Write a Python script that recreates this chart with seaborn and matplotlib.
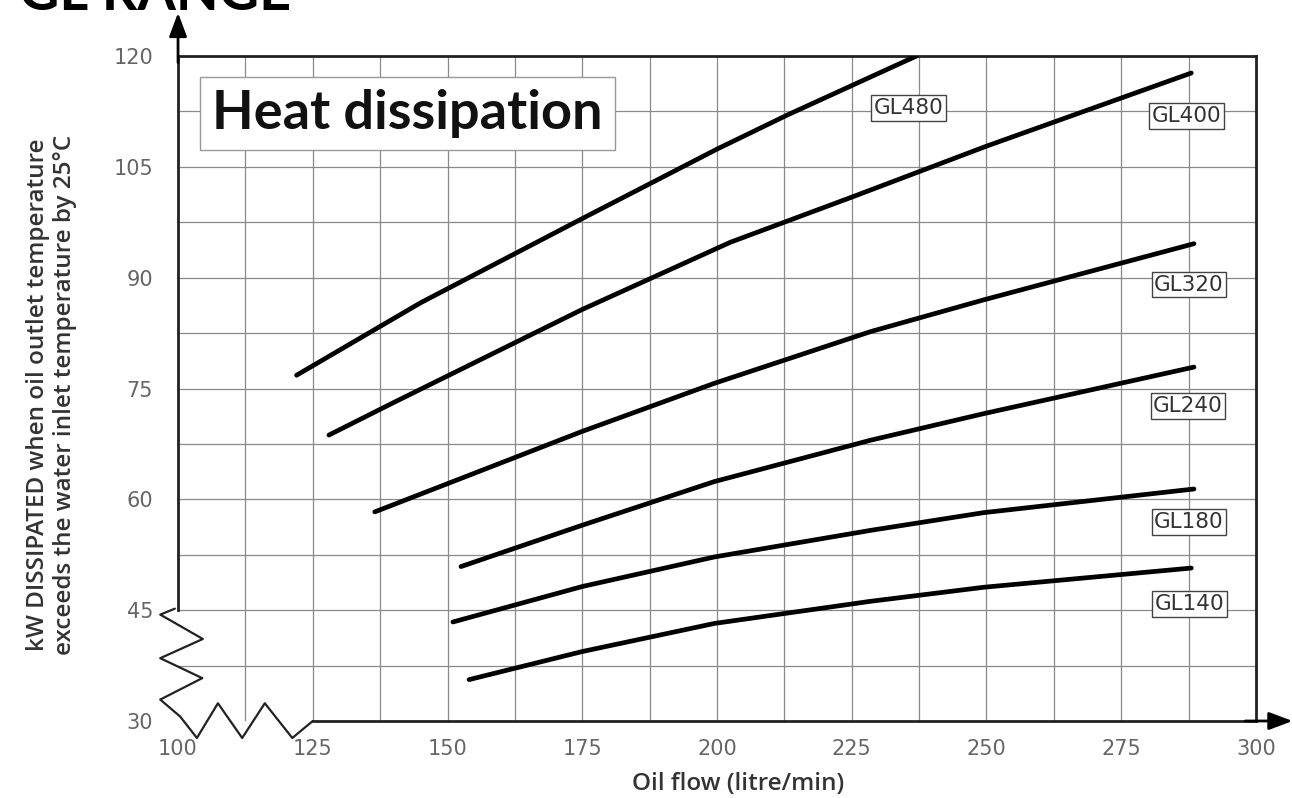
import numpy as np
import pandas as pd
import matplotlib
matplotlib.use("Agg")
import matplotlib.pyplot as plt
import seaborn as sns

## curve data (oil flow in litre/min, kW dissipated)
models = ['GL480', 'GL400', 'GL320', 'GL240', 'GL180', 'GL140']

gl480_flow = [122, 145, 175, 200, 213, 237]
gl480_kw = [76.8, 86.6, 98.0, 107.4, 112.0, 120.0]

gl400_flow = [128, 140, 175, 202.5, 225, 250, 288]
gl400_kw = [68.7, 73.1, 85.7, 94.8, 100.9, 107.8, 117.7]

gl320_flow = [136.5, 175, 199.5, 228.5, 249.5, 288.5]
gl320_kw = [58.3, 69.2, 75.7, 82.7, 87.0, 94.6]

gl240_flow = [152.5, 175, 199.5, 228.5, 249.5, 288.5]
gl240_kw = [50.9, 56.5, 62.4, 68.0, 71.6, 77.9]

gl180_flow = [151, 175, 199.5, 228.5, 249.5, 288.5]
gl180_kw = [43.4, 48.2, 52.2, 55.8, 58.2, 61.4]

gl140_flow = [154, 175, 199.5, 228.5, 249.5, 288]
gl140_kw = [35.6, 39.4, 43.2, 46.2, 48.1, 50.7]

x_ticks = [100, 125, 150, 175, 200, 225, 250, 275, 300]
y_ticks = [30, 45, 60, 75, 90, 105, 120]

flows = [gl480_flow, gl400_flow, gl320_flow, gl240_flow, gl180_flow, gl140_flow]
kws = [gl480_kw, gl400_kw, gl320_kw, gl240_kw, gl180_kw, gl140_kw]

# label offsets from the end of each curve (pixels)
label_offsets = [(-8, -52), (-5, -43), (-5, -41), (-6, -39), (-5, -33), (-2, -36)]

# long table for seaborn
rows = []
for m, fx, fy in zip(models, flows, kws):
    for a, b in zip(fx, fy):
        rows.append({'model': m, 'flow': a, 'kw': b})
df = pd.DataFrame(rows)

sns.set_theme(style="white")
plt.rcParams['font.family'] = ['Lato', 'DejaVu Sans']

fig = plt.figure(figsize=(12.92, 7.98), dpi=100)
ax = fig.add_axes([0.1378, 0.0965, 0.8343, 0.8333])

grid_col = '#8a8a8a'
# background grid, every half tick step
for gx in np.arange(112.5, 300.1, 12.5):
    ax.axvline(gx, color=grid_col, lw=0.9, zorder=0, ymin=0 if gx > 125 else -0.02)
for gy in np.arange(37.5, 120.1, 7.5):
    ax.axhline(gy, color=grid_col, lw=0.9, zorder=0)

sns.lineplot(data=df, x='flow', y='kw', hue='model', units='model', estimator=None,
             sort=False, palette=['black'] * len(models), linewidth=3.4,
             legend=False, ax=ax, zorder=3)

for m, fx, fy, off in zip(models, flows, kws, label_offsets):
    ax.annotate(m, xy=(fx[-1], fy[-1]), xytext=off, textcoords='offset pixels',
                ha='center', va='center', fontsize=15.5, color='#333333', zorder=4,
                family=['DejaVu Sans'],
                bbox=dict(boxstyle='square,pad=0.12', fc='white', ec='#444444', lw=1))

ax.set_xlim(100, 300)
ax.set_ylim(30, 120)
ax.set_xticks(x_ticks)
ax.set_yticks(y_ticks)
ax.tick_params(axis='both', length=0, labelsize=15, labelcolor='#666666')
ax.tick_params(axis='x', pad=13)
ax.tick_params(axis='y', pad=18)
for lab in ax.get_xticklabels() + ax.get_yticklabels():
    lab.set_family(['DejaVu Sans'])
ax.set_xlabel('')
ax.set_ylabel('')

for s in ax.spines.values():
    s.set_color('#222222')
    s.set_linewidth(2)
ax.spines['left'].set_bounds(45, 120)
ax.spines['bottom'].set_bounds(125, 300)

# axis break zigzags
zig_x = [99.4, 96.7, 104.6, 96.7, 104.5, 96.7, 100.4, 103.5, 107.4, 111.9, 116.1, 121.2, 125]
zig_y = [45.2, 44.4, 41.1, 38.5, 35.8, 32.9, 30.6, 27.7, 32.4, 27.7, 32.4, 27.7, 30]
ax.plot(zig_x, zig_y, color='#222222', lw=1.6, clip_on=False, zorder=5)

# arrows on the axes
ax.annotate('', xy=(0, 1.065), xytext=(0, 0.99), xycoords='axes fraction',
            arrowprops=dict(arrowstyle='-|>,head_length=1.2,head_width=0.45',
                            color='black', lw=2, shrinkA=0, shrinkB=0))
ax.annotate('', xy=(1.034, 0), xytext=(0.99, 0), xycoords='axes fraction',
            arrowprops=dict(arrowstyle='-|>,head_length=1.2,head_width=0.45',
                            color='black', lw=2, shrinkA=0, shrinkB=0))

ax.text(0.213, 0.9135, 'Heat dissipation', transform=ax.transAxes, ha='center',
        va='center', fontsize=39, fontweight='bold', color='#111111', zorder=4,
        bbox=dict(boxstyle='square,pad=0.22', fc='white', ec='#999999', lw=1))

fig.text(0.040, 0.505, 'kW DISSIPATED when oil outlet temperature\nexceeds the water inlet temperature by 25°C',
         rotation=90, ha='center', va='center', fontsize=17.5, fontweight='semibold',
         color='#333333', linespacing=1.15, family=['Open Sans', 'DejaVu Sans'])
fig.text(0.571, 0.017, 'Oil flow (litre/min)', ha='center', va='center',
         fontsize=17.5, fontweight='semibold', color='#333333',
         family=['Open Sans', 'DejaVu Sans'])
fig.text(0.225, 1.008, 'GL RANGE', ha='right', va='center', fontsize=40,
         fontweight='bold', color='black')

fig.savefig('out.png', dpi=100)
